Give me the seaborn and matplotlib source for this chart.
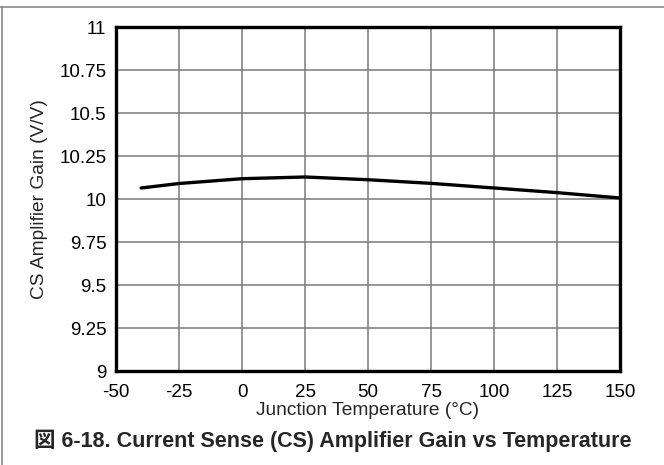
import matplotlib
matplotlib.use("Agg")
import matplotlib.pyplot as plt
import seaborn as sns
import pandas as pd
from matplotlib.lines import Line2D

# === Data ===
temperature = [-40, -25, 0, 25, 50, 75, 100, 125, 150]
gain = [10.064, 10.090, 10.118, 10.128, 10.112, 10.091, 10.064, 10.037, 10.006]

x_ticks = [-50, -25, 0, 25, 50, 75, 100, 125, 150]
y_ticks = [9, 9.25, 9.5, 9.75, 10, 10.25, 10.5, 10.75, 11]
y_tick_labels = ["9", "9.25", "9.5", "9.75", "10", "10.25", "10.5", "10.75", "11"]

df = pd.DataFrame({"temp": temperature, "gain": gain})

sns.set_style("white")
plt.rcParams["font.family"] = ["Liberation Sans", "Noto Sans CJK JP", "DejaVu Sans"]
plt.rcParams["axes.unicode_minus"] = False

fig = plt.figure(figsize=(6.64, 4.65), dpi=100)
ax = fig.add_axes([116 / 664, 1 - 371 / 465, (620 - 116) / 664, (371 - 27) / 465])

sns.lineplot(data=df, x="temp", y="gain", ax=ax, color="black", linewidth=2.4)

ax.set_xlim(-50, 150)
ax.set_ylim(9, 11)
ax.set_xticks(x_ticks)
ax.set_yticks(y_ticks)
ax.set_yticklabels(y_tick_labels)
ax.tick_params(length=0, labelsize=13.5, colors="black")
ax.tick_params(axis="y", pad=7)
ax.tick_params(axis="x", pad=9)
ax.grid(True, color="#7a7a7a", linewidth=1.1)
for s in ax.spines.values():
    s.set_linewidth(2.4)
    s.set_color("black")

ax.set_xlabel("Junction Temperature (\u00b0C)", fontsize=13.8, labelpad=1)
ax.set_ylabel("CS Amplifier Gain (V/V)", fontsize=13.8, labelpad=8)

fig.text(333 / 664, 1 - 441 / 465,
         "\u56f3 6-18. Current Sense (CS) Amplifier Gain vs Temperature",
         ha="center", va="center", fontsize=15.5, fontweight="bold")

# frame lines at the top and left edge
fig.add_artist(Line2D([0, 1], [1 - 7 / 465, 1 - 7 / 465], transform=fig.transFigure,
                      color="#8a8a8a", linewidth=1.2))
fig.add_artist(Line2D([1.5 / 664, 1.5 / 664], [0, 1 - 7 / 465], transform=fig.transFigure,
                      color="#8a8a8a", linewidth=1.2))

fig.savefig("out.png", dpi=100)
